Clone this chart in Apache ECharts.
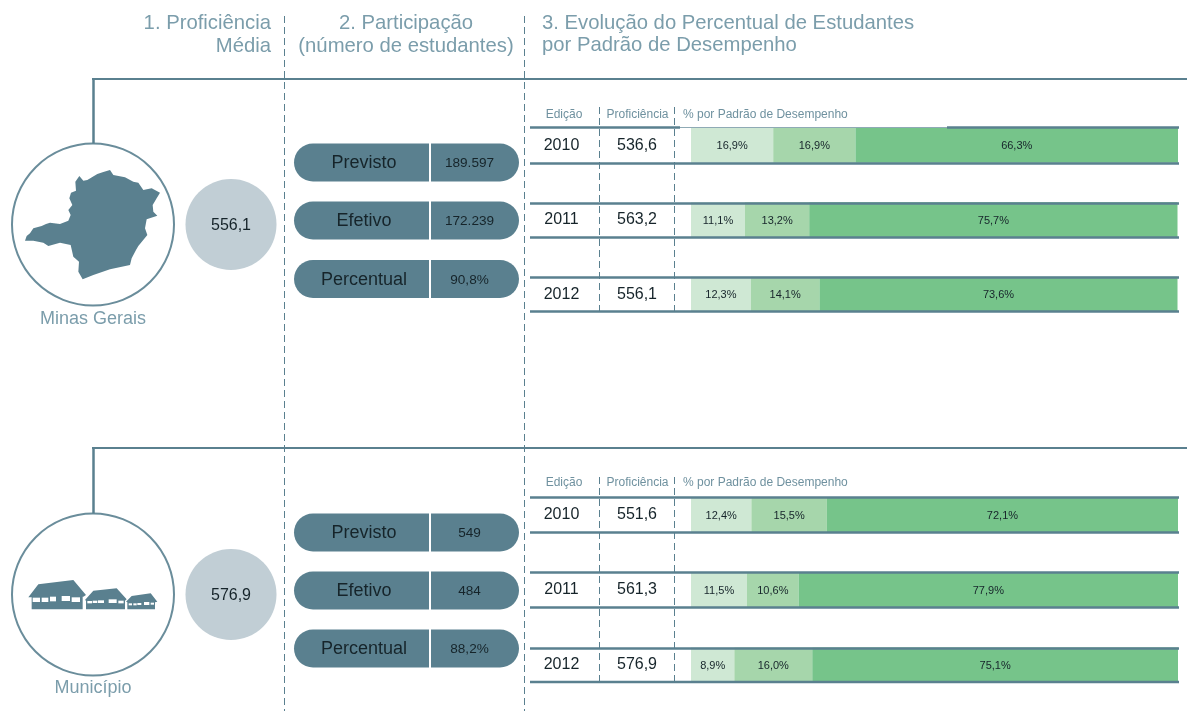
<!DOCTYPE html>
<html lang="pt">
<head>
<meta charset="utf-8">
<title>Resultados</title>
<style>html,body{margin:0;padding:0;background:#fff}#c{width:1187px;height:711px}</style>
<script src="https://cdn.jsdelivr.net/npm/echarts@6/dist/echarts.min.js"></script>
</head>
<body>
<div id="c"></div>
<script>
// ---------- data ----------
const years = ['2010', '2011', '2012'];

const mgProficiency = ['536,6', '563,2', '556,1'];
const mgLow  = [16.9, 11.1, 12.3];
const mgMid  = [16.9, 13.2, 14.1];
const mgHigh = [66.3, 75.7, 73.6];

const munProficiency = ['551,6', '561,3', '576,9'];
const munLow  = [12.4, 11.5, 8.9];
const munMid  = [15.5, 10.6, 16.0];
const munHigh = [72.1, 77.9, 75.1];

const pillLabels = ['Previsto', 'Efetivo', 'Percentual'];
const mgParticipation = ['189.597', '172.239', '90,8%'];
const munParticipation = ['549', '484', '88,2%'];
const mgMean = '556,1';
const munMean = '576,9';

// ---------- style ----------
const FONT = '"Liberation Sans", Arial, sans-serif';
const TEAL = '#5a808f';
const HEAD = '#7b9dab';
const SUB = '#6f919f';
const INK = '#16242a';
const GREENS = ['#cfe8d4', '#a6d6ab', '#76c48a'];

const g = [];
const line = (x1, y1, x2, y2, stroke, lineWidth, lineDash) => g.push({
  type: 'line', silent: true, z: 10,
  shape: { x1, y1, x2, y2 },
  style: { stroke, lineWidth, lineDash: lineDash || null }
});
const text = (x, y, s, size, fill, align) => g.push({
  type: 'text', silent: true, z: 20, x, y,
  style: { text: s, font: size + 'px ' + FONT, fill, align: align || 'center', verticalAlign: 'middle' }
});

// headers
text(271, 23, '1. Proficiência', 20.3, HEAD, 'right');
text(271, 46, 'Média', 20.3, HEAD, 'right');
text(406, 23, '2. Participação', 20.3, HEAD);
text(406, 46, '(número de estudantes)', 20.3, HEAD);
text(542, 23, '3. Evolução do Percentual de Estudantes', 20.3, HEAD, 'left');
text(542, 45, 'por Padrão de Desempenho', 20.3, HEAD, 'left');

// long dashed dividers
line(284.5, 16, 284.5, 711, TEAL, 1, [7, 4]);
line(524.5, 16, 524.5, 711, TEAL, 1, [7, 4]);

// Minas Gerais outline (icon, not data)
const mapOutline = [[45,272],[50,258],[60,250],[70,235],[95,228],[108,222],[120,218],[150,222],[175,212],[182,195],[175,180],[187,165],[178,145],[183,128],[198,122],[196,95],[208,78],[220,92],[232,90],[262,72],[280,66],[300,60],[310,75],[345,82],[370,95],[385,98],[400,120],[425,115],[450,128],[440,145],[428,165],[430,185],[442,197],[410,208],[405,235],[412,255],[385,288],[378,300],[365,325],[360,345],[300,358],[250,375],[218,388],[205,365],[207,335],[190,320],[182,285],[150,278],[115,288],[100,278],[70,272]];
g.push({
  type: 'polygon', silent: true, z: 5,
  shape: { points: mapOutline.map(p => [10 + p[0] / 3, 150 + p[1] / 3]) },
  style: { fill: TEAL }
});

// village icon
const hx = x => 20 + x / 3, hy = y => 570 + y / 3;
const poly = pts => g.push({ type: 'polygon', silent: true, z: 5, shape: { points: pts.map(p => [hx(p[0]), hy(p[1])]) }, style: { fill: TEAL } });
const win = (x, y, w, h) => g.push({ type: 'rect', silent: true, z: 6, shape: { x: hx(x), y: hy(y), width: w / 3, height: h / 3 }, style: { fill: '#fff' } });
poly([[25,82],[55,43],[160,30],[198,75],[190,80],[188,80],[188,118],[35,118],[35,82]]);
poly([[195,90],[220,62],[290,55],[320,88],[315,92],[315,118],[198,118],[198,92]]);
poly([[318,95],[335,78],[392,70],[412,95],[405,97],[405,118],[322,118],[322,97]]);
[[38,83,22,13],[65,83,20,13],[90,80,18,14],[125,78,25,15],[155,82,25,14],
 [202,93,14,7],[218,92,14,7],[234,91,18,8],[266,88,24,11],[295,92,16,8],
 [326,100,10,6],[340,100,10,6],[352,99,12,6],[372,96,16,9],[392,98,10,6]].forEach(w => win(...w));

// each block: section rule, circles, pills, table rules
function block(cfg) {
  const { ruleY, cy, name, nameY, mean, pillYs, vals, rows, headY, dashTop, dashBottom, splitHead } = cfg;
  line(92, ruleY, 1187, ruleY, TEAL, 2.2);
  line(93.5, ruleY, 93.5, cy - 81, TEAL, 2.5);
  g.push({ type: 'circle', silent: true, z: 4, shape: { cx: 93, cy, r: 81 }, style: { fill: 'none', stroke: '#6a8d9b', lineWidth: 2 } });
  g.push({ type: 'circle', silent: true, z: 4, shape: { cx: 231, cy, r: 45.5 }, style: { fill: '#c1ced5' } });
  text(231, cy + 1, mean, 16, INK);
  text(93, nameY + 1, name, 18, HEAD);

  pillYs.forEach((y, i) => {
    g.push({ type: 'rect', silent: true, z: 4, shape: { x: 294, y, width: 135, height: 38, r: [19, 0, 0, 19] }, style: { fill: TEAL } });
    g.push({ type: 'rect', silent: true, z: 4, shape: { x: 431, y, width: 88, height: 38, r: [0, 19, 19, 0] }, style: { fill: TEAL } });
    text(364, y + 20, pillLabels[i], 18, INK);
    text(469.5, y + 20, vals[i], 13.6, INK);
  });

  text(564, headY + 1, 'Edição', 12, SUB);
  text(637.5, headY + 1, 'Proficiência', 12, SUB);
  text(683, headY + 1, '% por Padrão de Desempenho', 12, SUB, 'left');
  line(599.5, dashTop, 599.5, dashBottom, TEAL, 1, [7, 4]);
  line(674.5, dashTop, 674.5, dashBottom, TEAL, 1, [7, 4]);

  rows.forEach((y, i) => {
    if (i === 0 && splitHead) {
      line(530, y, 680, y, TEAL, 2.4);
      line(680, y, 947, y, '#8faab5', 1.2);
      line(947, y, 1179, y, TEAL, 2.4);
    } else {
      line(530, y, 1179, y, TEAL, 2.4);
    }
  });
}

block({
  ruleY: 79, cy: 224.5, name: 'Minas Gerais', nameY: 318, mean: mgMean,
  pillYs: [143.5, 201.5, 260], vals: mgParticipation,
  rows: [127.5, 163.5, 203.5, 237.5, 277.5, 311.5], headY: 114, dashTop: 107, dashBottom: 315, splitHead: true
});
block({
  ruleY: 448, cy: 594.5, name: 'Município', nameY: 687, mean: munMean,
  pillYs: [513.5, 571.5, 629.5], vals: munParticipation,
  rows: [497.5, 532.5, 572.5, 607.5, 648.5, 682], headY: 482, dashTop: 477, dashBottom: 686, splitHead: false
});

// ---------- chart ----------
const grids = [
  { left: 691, width: 487, top: 108, height: 223.5, outerBoundsMode: 'none', containLabel: false },
  { left: 691, width: 487, top: 477.5, height: 225, outerBoundsMode: 'none', containLabel: false }
];
const fmt = p => p.value.toFixed(1).replace('.', ',') + '%';
const xAxes = [100.1, 100].map((max, i) => ({ type: 'value', gridIndex: i, min: 0, max, show: false }));
const labelAxis = (gridIndex, data, margin) => ({
  type: 'category', gridIndex, inverse: true, data, position: 'left',
  axisLine: { show: false }, axisTick: { show: false }, splitLine: { show: false },
  axisLabel: { margin, align: 'center', color: INK, fontFamily: FONT, fontSize: 16, padding: [3, 0, 0, 0] }
});
const yAxes = [
  labelAxis(0, years, 129.5), labelAxis(0, mgProficiency, 54),
  labelAxis(1, years, 129.5), labelAxis(1, munProficiency, 54)
];
const bar = (name, data, i, gridIdx) => ({
  type: 'bar', name, data, stack: 'g' + gridIdx,
  xAxisIndex: gridIdx, yAxisIndex: gridIdx * 2,
  barWidth: 35, silent: true,
  itemStyle: { color: GREENS[i] },
  label: { show: true, position: 'inside', offset: [0, 1], formatter: fmt, color: INK, fontFamily: FONT, fontSize: 11 }
});

const chart = echarts.init(document.getElementById('c'), null, { renderer: 'canvas' });
chart.setOption({
  animation: false,
  backgroundColor: '#fff',
  grid: grids,
  xAxis: xAxes,
  yAxis: yAxes,
  series: [
    bar('Padrão 1', mgLow, 0, 0), bar('Padrão 2', mgMid, 1, 0), bar('Padrão 3', mgHigh, 2, 0),
    bar('Padrão 1', munLow, 0, 1), bar('Padrão 2', munMid, 1, 1), bar('Padrão 3', munHigh, 2, 1)
  ],
  graphic: { elements: g }
});
</script>
</body>
</html>
